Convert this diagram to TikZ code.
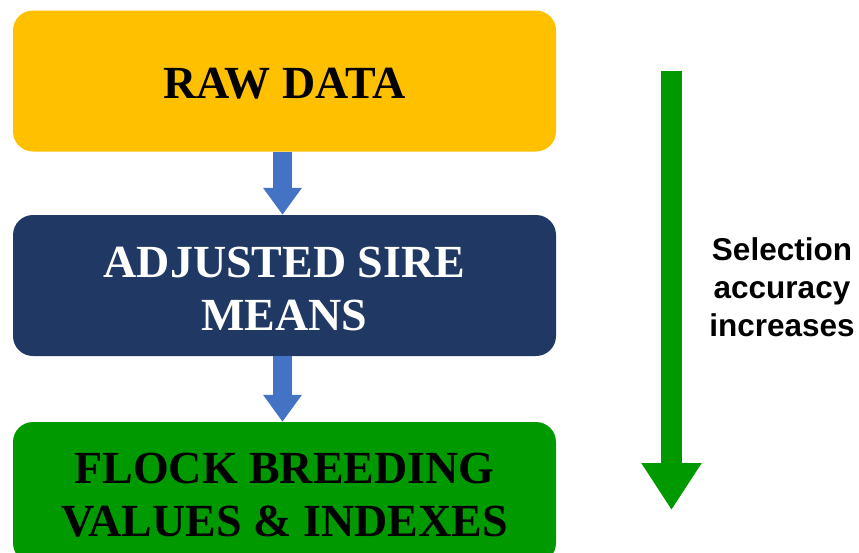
\documentclass[tikz,border=0pt]{standalone}
\usepackage{fontspec}
\setmainfont{Liberation Serif}
\newfontfamily\labfont{Liberation Sans}
\usepackage{xcolor}
\usetikzlibrary{arrows.meta,positioning}
\definecolor{rawc}{HTML}{FFC000}
\definecolor{adjc}{HTML}{1F3864}
\definecolor{flockc}{HTML}{009900}
\definecolor{stepc}{HTML}{4472C4}
\newcommand{\dropline}[1]{\raisebox{-3pt}[\height][\depth]{#1}}
\tikzset{
  stage/.style={rounded corners=20pt, minimum width=543pt, minimum height=141pt,
    align=center, inner sep=0pt, font=\bfseries\fontsize{46}{53}\selectfont},
  flow/.style={draw=stepc, line width=19pt, -{Triangle[length=27pt,width=37pt]}},
  trend/.style={draw=flockc, line width=21pt, -{Triangle[length=47pt,width=57pt]}},
  lab/.style={align=center, font=\labfont\bfseries\fontsize{31.5}{38}\selectfont},
}
\begin{document}
\begin{tikzpicture}[x=1pt,y=-1pt]
  \useasboundingbox (0,0) rectangle (859,552);
  \node[stage, fill=rawc, text=black] (raw) at (284.5,81) {\dropline{RAW DATA}};
  \node[stage, fill=adjc, text=white] (adj) at (284.5,285.5) {\dropline{ADJUSTED SIRE}\\\dropline{MEANS}};
  \node[stage, fill=flockc, text=black] (flock) at (284.5,492.5) {\dropline{FLOCK BREEDING}\\\dropline{VALUES \& INDEXES}};
  \draw[flow] ([xshift=-2pt]raw.south) -- ([xshift=-2pt]adj.north);
  \draw[flow] ([xshift=-2pt]adj.south) -- ([xshift=-2pt]flock.north);
  % accuracy trend
  \coordinate (top) at (671.5,71);
  \coordinate (bot) at (671.5,510);
  \draw[trend] (top) -- (bot);
  \node[lab] (acc) at (782,287) {Selection\\accuracy\\increases};
\end{tikzpicture}
\end{document}
